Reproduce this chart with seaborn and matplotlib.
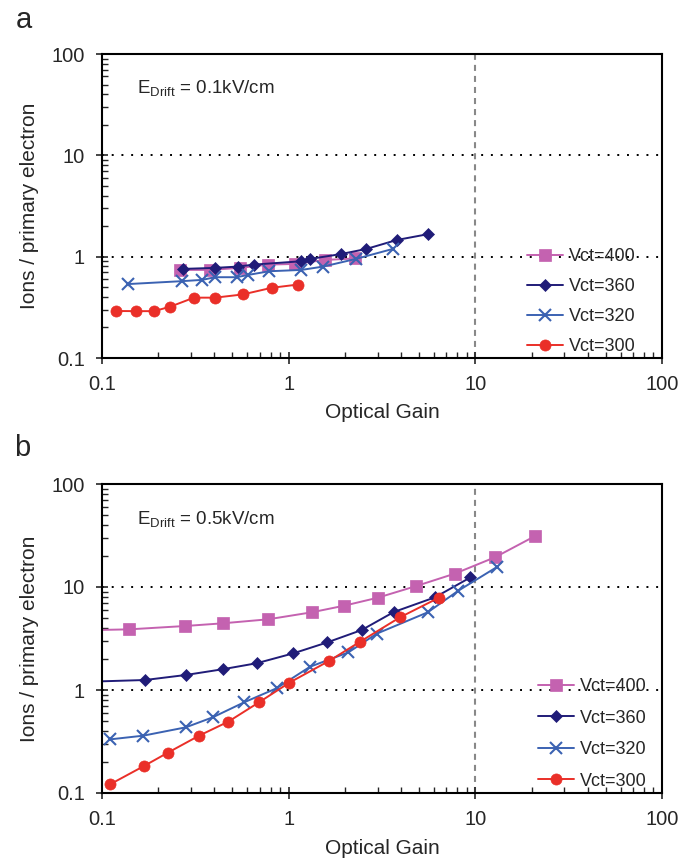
import numpy as np
import pandas as pd
import seaborn as sns
import matplotlib.pyplot as plt
from matplotlib.ticker import LogLocator, NullFormatter

# Panel a: E_Drift = 0.1 kV/cm
a_x_400 = [0.262, 0.379, 0.548, 0.778, 1.08, 1.56, 2.27]
a_y_400 = [0.74, 0.74, 0.775, 0.835, 0.848, 0.928, 0.96]
a_x_360 = [0.27, 0.403, 0.532, 0.652, 1.16, 1.3, 1.9, 2.6, 3.79, 5.6]
a_y_360 = [0.757, 0.775, 0.798, 0.835, 0.9, 0.949, 1.06, 1.19, 1.46, 1.67]
a_x_320 = [0.138, 0.138, 0.267, 0.344, 0.403, 0.526, 0.608, 0.787, 1.17, 1.53, 2.29, 3.6]
a_y_320 = [0.50, 0.573, 0.573, 0.59, 0.627, 0.627, 0.661, 0.718, 0.74, 0.798, 0.95, 1.19]
a_x_300 = [0.119, 0.153, 0.19, 0.231, 0.311, 0.404, 0.568, 0.811, 1.125]
a_y_300 = [0.291, 0.29, 0.29, 0.32, 0.394, 0.394, 0.424, 0.493, 0.531]

# Panel b: E_Drift = 0.5 kV/cm
b_x_400 = [0.08, 0.14, 0.278, 0.443, 0.778, 1.33, 1.98, 3.0, 4.81, 7.78, 12.8, 20.8]
b_y_400 = [3.8, 3.88, 4.18, 4.44, 4.86, 5.68, 6.58, 7.87, 10.2, 13.5, 19.5, 31.1]
b_x_360 = [0.08, 0.17, 0.282, 0.443, 0.675, 1.06, 1.61, 2.46, 3.66, 6.08, 9.42]
b_y_360 = [1.2, 1.25, 1.4, 1.59, 1.82, 2.27, 2.9, 3.82, 5.72, 7.94, 12.4]
b_x_320 = [0.111, 0.166, 0.281, 0.392, 0.578, 0.862, 1.30, 2.09, 2.96, 5.56, 8.1, 13.1]
b_y_320 = [0.332, 0.36, 0.434, 0.543, 0.76, 1.04, 1.68, 2.32, 3.52, 5.68, 9.2, 15.7]
b_x_300 = [0.111, 0.168, 0.225, 0.331, 0.475, 0.694, 1.01, 1.65, 2.41, 3.95, 6.38]
b_y_300 = [0.122, 0.183, 0.246, 0.36, 0.493, 0.76, 1.18, 1.92, 2.94, 5.08, 7.87]

labels = ['Vct=400', 'Vct=360', 'Vct=320', 'Vct=300']
colors = ['#C462B0', '#201C78', '#3B62B2', '#EA2F28']
markers = ['s', 'D', 'x', 'o']
msizes = [8, 6, 8, 8]

sns.set_theme(style='white')
plt.rcParams['font.family'] = ['Liberation Sans', 'DejaVu Sans']
plt.rcParams['mathtext.fontset'] = 'custom'
plt.rcParams['mathtext.rm'] = 'Liberation Sans'

fig = plt.figure(figsize=(6.95, 8.59), dpi=100)
W, H = 695, 859
ax_a = fig.add_axes([102 / W, 1 - 358 / H, 560 / W, 304 / H])
ax_b = fig.add_axes([102 / W, 1 - 793 / H, 560 / W, 309 / H])

panels = [
    (ax_a, [(a_x_400, a_y_400), (a_x_360, a_y_360), (a_x_320, a_y_320), (a_x_300, a_y_300)],
     r'E$_{\mathrm{Drift}}$ = 0.1kV/cm', (0.965, 0.384), 0.72, 6),
    (ax_b, [(b_x_400, b_y_400), (b_x_360, b_y_360), (b_x_320, b_y_320), (b_x_300, b_y_300)],
     r'E$_{\mathrm{Drift}}$ = 0.5kV/cm', (0.985, 0.395), 0.8, 7),
]

for ax, series, note, leg_anchor, lspace, xpad in panels:
    for (xs, ys), lab, c, m, ms in zip(series, labels, colors, markers, msizes):
        df = pd.DataFrame({'gain': xs, 'ions': ys})
        sns.lineplot(data=df, x='gain', y='ions', sort=False, color=c, marker=m,
                     markersize=ms, markeredgecolor=c, markeredgewidth=1.5 if m == 'x' else 0.5,
                     linewidth=1.4, label=lab, ax=ax)
    ax.set_xscale('log')
    ax.set_yscale('log')
    ax.set_xlim(0.1, 100)
    ax.set_ylim(0.1, 100)
    for yv in [1, 10]:
        ax.axhline(yv, color='black', linestyle=(0, (1, 4)), linewidth=1.4, zorder=0)
    ax.axvline(10, color='#888888', linestyle=(0, (2.9, 2.4)), linewidth=1.5, zorder=0)

    ax.set_xticks([0.1, 1, 10, 100])
    ax.set_xticklabels(['0.1', '1', '10', '100'])
    ax.set_yticks([0.1, 1, 10, 100])
    ax.set_yticklabels(['0.1', '1', '10', '100'])
    ax.xaxis.set_minor_locator(LogLocator(base=10, subs=np.arange(2, 10)))
    ax.yaxis.set_minor_locator(LogLocator(base=10, subs=np.arange(2, 10)))
    ax.xaxis.set_minor_formatter(NullFormatter())
    ax.yaxis.set_minor_formatter(NullFormatter())
    ax.tick_params(axis='both', which='major', direction='inout', length=9, width=1.2,
                   labelsize=14.5, bottom=True, left=True, pad=8)
    ax.tick_params(axis='both', which='minor', direction='in', length=4, width=1,
                   bottom=True, left=True)
    for s in ax.spines.values():
        s.set_color('black')
        s.set_linewidth(1.5)

    ax.set_xlabel('Optical Gain', fontsize=15, labelpad=xpad)
    ax.set_ylabel('Ions / primary electron', fontsize=15, labelpad=9)
    ax.text(0.062, 0.885, note, transform=ax.transAxes, fontsize=13.5, ha='left', va='center')

    ax.legend(loc='upper right', bbox_to_anchor=leg_anchor, frameon=False,
              fontsize=13, handlelength=2.0, handletextpad=0.3, labelspacing=lspace,
              borderaxespad=0.0)

fig.text(16 / W, 1 - 20 / H, 'a', fontsize=21, ha='left', va='center')
fig.text(14 / W, 1 - 448 / H, 'b', fontsize=21, ha='left', va='center')

plt.savefig('out.png', dpi=100)
